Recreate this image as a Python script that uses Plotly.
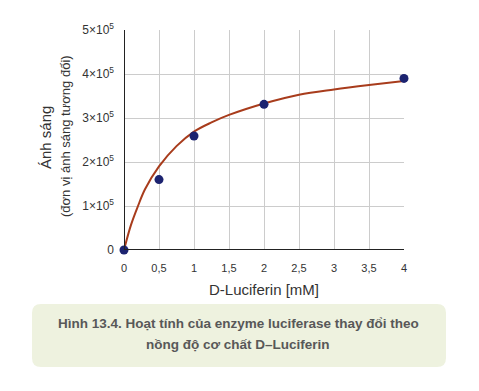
import plotly.graph_objects as go

# measured data points
pts_x = [0, 0.5, 1, 2, 4]
pts_y = [0, 1.6e5, 2.59e5, 3.31e5, 3.9e5]

# fitted curve
curve_x = [0, 0.1, 0.2, 0.3, 0.5, 0.75, 1, 1.25, 1.5, 2, 2.5, 3, 3.5, 4]
curve_y = [0, 0.57e5, 1.0e5, 1.38e5, 1.9e5, 2.36e5, 2.69e5, 2.9e5, 3.07e5, 3.33e5, 3.53e5, 3.65e5, 3.75e5, 3.84e5]

x_ticks = [0, 0.5, 1, 1.5, 2, 2.5, 3, 3.5, 4]
x_ticktext = ["0", "0,5", "1", "1,5", "2", "2,5", "3", "3,5", "4"]
y_ticks = [0, 1e5, 2e5, 3e5, 4e5, 5e5]
y_ticktext = ["0", "1×10<sup>5</sup>", "2×10<sup>5</sup>", "3×10<sup>5</sup>",
              "4×10<sup>5</sup>", "5×10<sup>5</sup>"]

OFF = 8  # page body margin
W, H = 479 - 2 * OFF, 391 - 2 * OFF
L, T, PW, PH = 124 - OFF, 30 - OFF, 280, 220
R = W - L - PW
B = H - T - PH


def px(x):
    return (x - OFF - L) / PW


def py(y):
    return 1 - (y - OFF - T) / PH


FONT = "Liberation Sans, Arial, sans-serif"

fig = go.Figure()
fig.add_trace(go.Scatter(x=curve_x, y=curve_y, mode="lines",
                         line=dict(color="#a83c1c", width=2, shape="spline"),
                         cliponaxis=False, hoverinfo="skip"))
fig.add_trace(go.Scatter(x=pts_x, y=pts_y, mode="markers",
                         marker=dict(color="#1c2370", size=9),
                         cliponaxis=False))

fig.update_xaxes(range=[0, 4], tickvals=x_ticks, ticktext=x_ticktext, showgrid=True,
                 gridcolor="#cccccc", gridwidth=1, zeroline=False, showline=False,
                 tickfont=dict(family=FONT, size=11, color="#333"), ticks="",
                 ticklabelstandoff=10)
fig.update_yaxes(range=[0, 5e5], tickvals=y_ticks, ticktext=y_ticktext, showgrid=True,
                 gridcolor="#cccccc", gridwidth=1, zeroline=False, showline=False,
                 tickfont=dict(family=FONT, size=12, color="#333"), ticks="",
                 ticklabelstandoff=9)

# axis lines with arrowheads
shapes = [
    dict(type="line", xref="x", yref="y", x0=0, y0=0, x1=4.08, y1=0,
         line=dict(color="#222", width=2)),
    dict(type="line", xref="x", yref="y", x0=0, y0=0, x1=0, y1=5.1e5,
         line=dict(color="#222", width=2)),
]
fig.add_trace(go.Scatter(x=[4.1, 0], y=[0, 5.12e5], mode="markers",
                         marker=dict(symbol=["triangle-right", "triangle-up"], size=10,
                                     color="#222", line=dict(width=0)),
                         cliponaxis=False, hoverinfo="skip"))


def ann(x, y, text, size, color="#333", angle=0):
    return dict(x=px(x), y=py(y), xref="paper", yref="paper", text=text,
                xanchor="center", yanchor="middle", textangle=angle, showarrow=False,
                font=dict(family=FONT, size=size, color=color))


annotations = [
    ann(264, 289, "D-Luciferin [mM]", 15),
    ann(45, 138, "Ánh sáng", 15, angle=-90),
    ann(65, 136, "(đơn vị ánh sáng tương đối)", 13, angle=-90),
    ann(238, 323, "<b>Hình 13.4. Hoạt tính của enzyme luciferase thay đổi theo</b>", 13.5, "#585858"),
    ann(238, 344, "<b>nồng độ cơ chất D–Luciferin</b>", 13.5, "#585858"),
]

# rounded caption box
x0, x1, y0, y1, r = px(32), px(446), py(367), py(304), 9
rx, ry = r / PW, r / PH
path = (f"M {x0+rx},{y0} L {x1-rx},{y0} Q {x1},{y0} {x1},{y0+ry} L {x1},{y1-ry} "
        f"Q {x1},{y1} {x1-rx},{y1} L {x0+rx},{y1} Q {x0},{y1} {x0},{y1-ry} "
        f"L {x0},{y0+ry} Q {x0},{y0} {x0+rx},{y0} Z")
shapes.append(dict(type="path", path=path, xref="paper", yref="paper",
                   fillcolor="#eef2df", line=dict(width=0), layer="below"))

fig.update_layout(width=W, height=H, margin=dict(l=L, r=R, t=T, b=B),
                  paper_bgcolor="white", plot_bgcolor="white", showlegend=False,
                  annotations=annotations, shapes=shapes)
fig.write_html("out.html")
